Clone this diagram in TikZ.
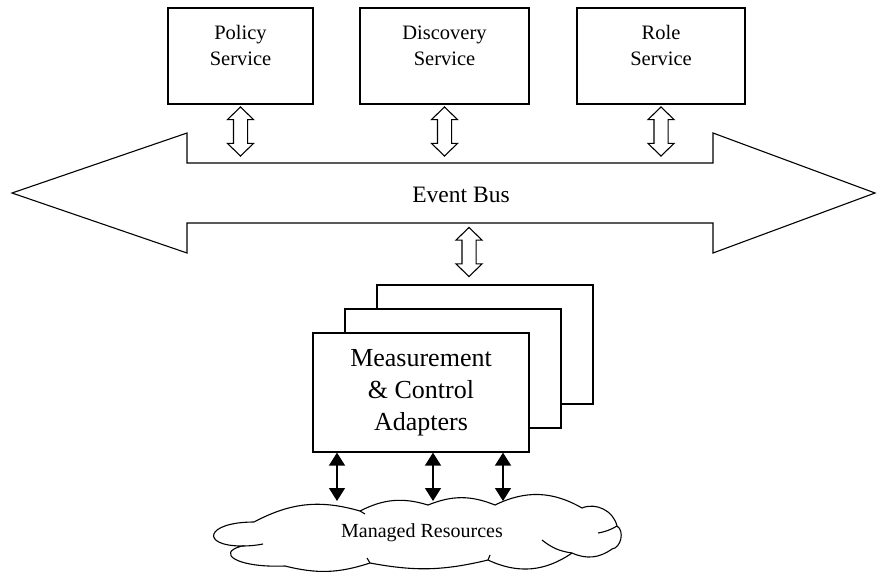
\documentclass[tikz,border=0pt]{standalone}
\usepackage{fontspec}
\setmainfont{Liberation Serif}
\usetikzlibrary{shapes.arrows,arrows.meta,calc}

\begin{document}
\begin{tikzpicture}[x=1pt,y=-1pt]
\tikzstyle{svc}=[rectangle,draw,line width=1.3pt,align=center,minimum height=96pt,text depth=21pt,font=\fontsize{20.5}{25.5}\selectfont]
\tikzstyle{adapter}=[rectangle,draw,fill=white,line width=1.3pt,minimum width=216pt,minimum height=119pt,align=center,font=\fontsize{26}{32}\selectfont]
\tikzstyle{hollow}=[double arrow,draw,line width=1.1pt,shape border rotate=90,inner sep=6.5pt,minimum height=49pt,minimum width=25pt,double arrow head extend=6pt,double arrow tip angle=92]
\tikzstyle{dbl}=[line width=1.4pt,{Triangle[length=13pt,width=16pt]}-{Triangle[length=13pt,width=16pt]}]
\useasboundingbox (0,0) rectangle (877,573);
% services on top
\node [svc,minimum width=145pt] (policy) at (240.5,56) {Policy\\Service};
\node [svc,minimum width=169pt] (discovery) at (444.5,56) {Discovery\\Service};
\node [svc,minimum width=168pt] (role) at (661,56) {Role\\Service};
% the bus
\draw [line width=1.1pt] (12,193) -- (187,133) -- (187,163) -- (713,163) -- (713,133) -- (875,193)
  -- (713,253) -- (713,223) -- (187,223) -- (187,253) -- cycle;
\node [font=\fontsize{23.5}{28}\selectfont] (buslabel) at (461,195) {Event Bus};
\node [hollow] (pa) at (240.5,131.5) {};
\node [hollow] (da) at (444.5,131.5) {};
\node [hollow] (ra) at (661,131.5) {};
\node [hollow] (aa) at (469,252) {};
% stack of adapters
\node [adapter] (adapter3) at (485,344.5) {};
\node [adapter] (adapter2) at (453,368.5) {};
\node [adapter] (adapter) at (421,392.5) {Measurement\\\& Control\\Adapters};
% resources cloud
\draw [line width=1.1pt] (254,522) to[bend left=22] (360,511) to[bend left=22] (428,505)
  to[bend left=22] (495,505) to[bend left=28] (582,508) to[bend left=50] (617,526)
  to[bend left=70] (612,549) to[bend left=30] (572,553) to[bend left=30] (488,560)
  to[bend left=12] (370,563) to[bend left=16] (285,566)
  .. controls (237,568) and (215,553) .. (242,546)
  .. controls (200,546) and (205,522) .. (254,522);
\draw [line width=1.1pt] (242,546) to[bend right=5] (263,544);
\draw [line width=1.1pt] (360,511) -- (365,514);
\draw [line width=1.1pt] (617,526) to[bend left=10] (598,533);
\draw [line width=1.1pt] (572,553) to[bend left=15] (542,540);
\draw [line width=1.1pt] (488,560) -- (490,555);
\draw [line width=1.1pt] (370,563) -- (367,558);
\node [font=\fontsize{20}{24}\selectfont] (resources) at (422,533) {Managed Resources};
\coordinate (r1) at (337,501);
\coordinate (r2) at (433,501);
\coordinate (r3) at (503,501);
\draw [dbl] (adapter.south -| r1) -- (r1);
\draw [dbl] (adapter.south -| r2) -- (r2);
\draw [dbl] (adapter.south -| r3) -- (r3);
\end{tikzpicture}
\end{document}
